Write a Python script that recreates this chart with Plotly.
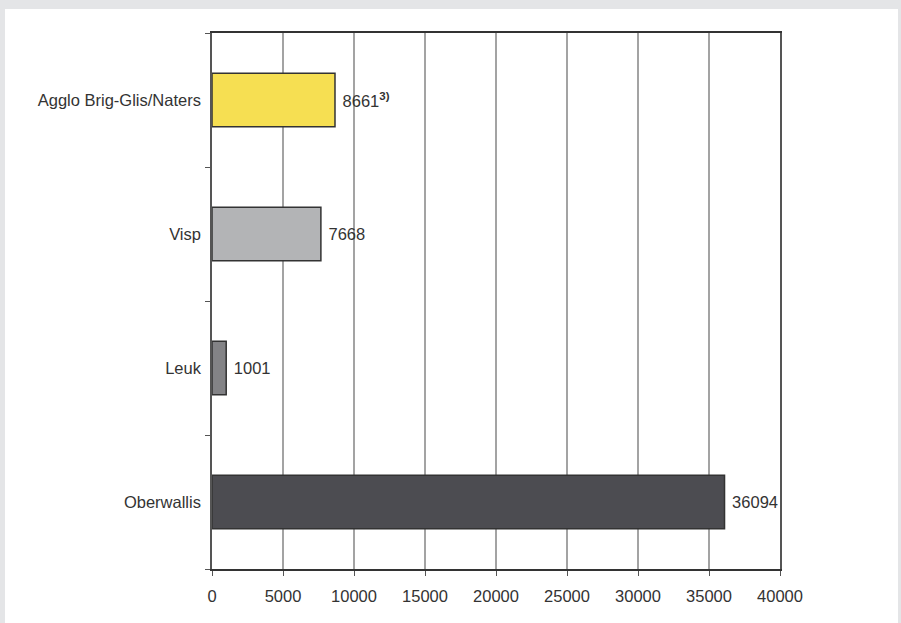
import plotly.graph_objects as go

categories = ["Oberwallis", "Leuk", "Visp", "Agglo Brig-Glis/Naters"]
values = [36094, 1001, 7668, 8661]
labels = [" 36094", " 1001", " 7668", " 8661<sup><b>3)</b></sup>"]
colors = ["#4c4c51", "#838386", "#b3b4b6", "#f6df52"]
x_ticks = [0, 5000, 10000, 15000, 20000, 25000, 30000, 35000, 40000]

W, H = 901, 623
L, R, T, B = 212, 780, 33, 569

fig = go.Figure()
fig.add_trace(go.Bar(
    y=categories, x=values, orientation="h",
    marker=dict(color=colors, line=dict(color="#333333", width=1.5)),
    width=0.4,
    text=labels, textposition="outside", cliponaxis=False,
    textfont=dict(family="Liberation Sans, Arial", size=16.5, color="#333333"),
))

def px(x):
    return (x - L) / (R - L)

def py(y):
    return (B - y) / (B - T)

fig.update_layout(
    width=W, height=H,
    margin=dict(l=L, r=W - R, t=T, b=H - B),
    paper_bgcolor="#e4e5e7",
    plot_bgcolor="white",
    showlegend=False,
    font=dict(family="Liberation Sans, Arial", size=16.5, color="#333333"),
    shapes=[dict(type="rect", xref="paper", yref="paper",
                 x0=px(5), x1=px(898), y0=py(623), y1=py(9),
                 fillcolor="white", line=dict(width=0), layer="below")],
    xaxis=dict(range=[0, 40000], tickvals=x_ticks,
               ticktext=[str(v) for v in x_ticks],
               showgrid=True, gridcolor="#a3a3a3", gridwidth=1.5,
               showline=True, linecolor="#333333", linewidth=1.5, mirror=True,
               ticks="outside", ticklen=5, tickcolor="#555555",
               ticklabelstandoff=6,
               zeroline=False, fixedrange=True,
               tickfont=dict(size=16.5)),
    yaxis=dict(categoryorder="array", categoryarray=categories,
               showline=True, linecolor="#555555", linewidth=1.5, mirror=True,
               ticks="outside", ticklen=5, tickcolor="#555555",
               tickson="boundaries", showgrid=False,
               ticklabelstandoff=6,
               fixedrange=True, tickfont=dict(size=16.5)),
    bargap=0.6,
)

fig.write_html("out.html")
